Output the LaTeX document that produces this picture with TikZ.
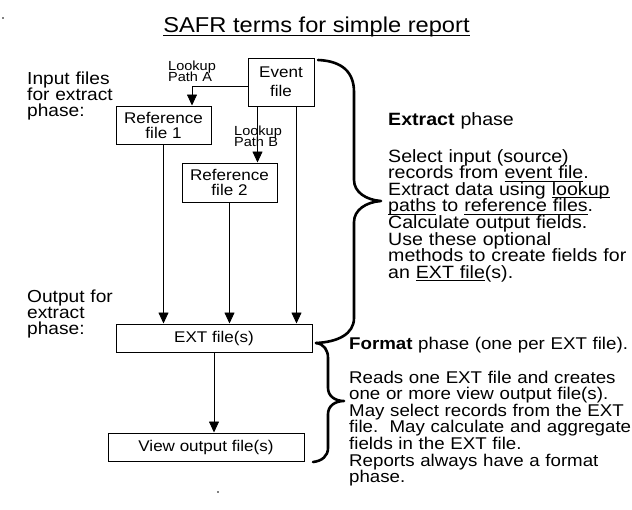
\documentclass[tikz,border=0pt]{standalone}
\usepackage{fontspec}
\setmainfont{Liberation Sans}[FakeStretch=1.1]
\usetikzlibrary{arrows.meta}
\newcommand\myul[2][2.8pt]{\leavevmode\setbox0\hbox{#2}\rlap{\rule[-#1]{\wd0}{0.9pt}}\box0\relax}
\begin{document}
\begin{tikzpicture}[x=1pt,y=-1pt,
  box/.style={draw=black, line width=1pt, inner sep=0pt, align=center},
  arr/.style={line width=0.8pt, -{Triangle[width=10pt,length=11pt]}},
  bracepath/.style={line width=2.6pt, line cap=round, line join=round},
  lbl/.style={anchor=base west, inner sep=0pt, align=left, text width=400pt,
    execute at begin node={\hyphenpenalty=10000\exhyphenpenalty=10000\lineskiplimit=-50pt\lineskip=0pt}},
  boxfont/.style={font=\fontsize{15.5}{15}\selectfont},
  smallfont/.style={font=\fontsize{13.2}{11.5}\selectfont},
  sidefont/.style={font=\fontsize{17.4}{16}\selectfont},
  bodyfont/.style={font=\fontsize{17.8}{16.6}\selectfont},
  fmtfont/.style={font=\fontsize{17}{16.6}\selectfont}]
\useasboundingbox (0,0) rectangle (632,509);
% stray dots
\fill (3,18) circle (0.9pt);
\fill (218,492) circle (0.9pt);
% title
\node[anchor=base, inner sep=0pt, font=\fontsize{21.5}{24}\selectfont] (title) at (316.5,32) {\myul[4pt]{SAFR terms for simple report}};
% side labels
\node[lbl, sidefont] (inlbl) at (27,84) {Input files\\for extract\\phase:};
\node[lbl, sidefont] (outlbl) at (27,302) {Output for\\extract\\phase:};
% boxes
\node[box, font=\fontsize{15.5}{19}\selectfont, minimum width=66pt, minimum height=48pt] (event) at (281,82) {Event\\file};
\node[box, boxfont, minimum width=95pt, minimum height=38pt] (ref1) at (163.5,125) {Reference\\file 1};
\node[box, boxfont, minimum width=95pt, minimum height=39pt] (ref2) at (229.5,182.5) {Reference\\file 2};
\node[box, boxfont, minimum width=196pt, minimum height=28pt] (ext) at (214,338) {EXT file(s)};
\node[box, boxfont, minimum width=196pt, minimum height=28pt] (view) at (206,447) {View output file(s)};
% lookup labels
\node[lbl, smallfont, text width=60pt] (lpa) at (168,70) {Lookup\\Path A};
\node[lbl, smallfont, text width=60pt] (lpb) at (234,135) {Lookup\\Path B};
% connectors
\draw[arr] ([yshift=-4pt]event.west) -| ([xshift=28.5pt]ref1.north);
\draw[arr] ([xshift=10pt]event.south west) -- ([xshift=10pt]event.south west |- ref2.north);
\draw[arr] ([xshift=-18pt]event.south east) -- ([xshift=-18pt]event.south east |- ext.north);
\draw[arr] (ref1.south) -- (ref1.south |- ext.north);
\draw[arr] (ref2.south) -- (ref2.south |- ext.north);
\draw[arr] (ext.south) -- (ext.south |- view.north);
% extract brace
\draw[bracepath] (318,60) .. controls (342,61) and (354,72) .. (354,92)
  -- (354,180) .. controls (354,192) and (366,200) .. (381,201)
  .. controls (366,202) and (354,210) .. (354,222)
  -- (354,318) .. controls (354,334) and (338,342) .. (316,343);
% format brace
\draw[bracepath] (316,343) .. controls (324,344) and (328,350) .. (328,358)
  -- (328,388) .. controls (328,396) and (335,401) .. (344,401)
  .. controls (335,401) and (328,406) .. (328,414)
  -- (328,448) .. controls (328,456) and (322,461) .. (313,462);
% extract text
\node[lbl, bodyfont] (exthead) at (388,125) {\textbf{Extract} phase};
\node[lbl, bodyfont] (extbody) at (388,162) {Select input (source)\\
records from \myul{event file}.\\
Extract data using \myul{lookup}\\
\myul{paths} to \myul{reference files}.\\
Calculate output fields.\\
Use these optional\\
methods to create fields for\\
an \myul{EXT file}(s).};
% format text
\node[lbl, fmtfont] (fmthead) at (349,349) {\textbf{Format} phase (one per EXT file).};
\node[lbl, fmtfont] (fmtbody) at (349,383) {Reads one EXT file and creates\\
one or more view output file(s).\\
May select records from the EXT\\
file.\ \ May calculate and aggregate\\
fields in the EXT file.\\
Reports always have a format\\
phase.};
\end{tikzpicture}
\end{document}
